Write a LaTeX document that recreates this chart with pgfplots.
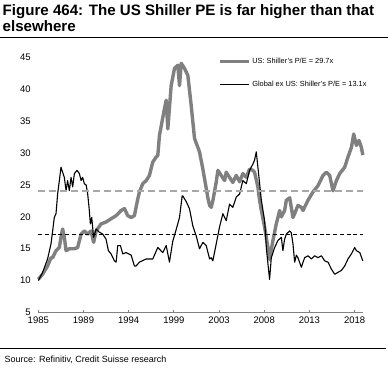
\documentclass[border=0pt]{standalone}
\usepackage{fontspec}
\setmainfont{Liberation Sans}
\usepackage{pgfplots}
\pgfplotsset{compat=1.18}
\definecolor{usgray}{RGB}{128,128,128}
\definecolor{dashgray}{RGB}{168,168,168}
\definecolor{axgray}{RGB}{130,130,130}
\begin{document}
\begin{tikzpicture}[x=1bp,y=1bp]
\useasboundingbox (0,0) rectangle (388,-369);
\node[anchor=base west,inner sep=0] at (2.5,-15) {\fontsize{15.1bp}{17bp}\selectfont\bfseries Figure 464: The US Shiller PE is far higher than that};
\node[anchor=base west,inner sep=0] at (2.5,-31.5) {\fontsize{15.1bp}{17bp}\selectfont\bfseries elsewhere};
\draw[line width=1bp] (0,-37.3) -- (388,-37.3);
\draw[line width=1bp] (0,-348) -- (386,-348);
\node[anchor=base west,inner sep=0] at (4.5,-362) {\fontsize{9bp}{10bp}\selectfont Source: Refinitiv, Credit Suisse research};
\begin{axis}[
  at={(38.3bp,-312.5bp)}, anchor=south west,
  scale only axis, width=325bp, height=255bp,
  xmin=1985, xmax=2018.95, ymin=5, ymax=45,
  axis x line=bottom, axis y line=left,
  x axis line style={draw=axgray, line width=0.9bp, -},
  y axis line style={draw=none},
  ytick={5,10,...,45},
  xtick={1985,1989.72,1994.44,1999.16,2003.88,2008.6,2013.32,2018.04},
  xticklabels={1985,1989,1994,1999,2003,2008,2013,2018},
  tick align=inside, major tick length=3bp,
  xtick style={draw=axgray, line width=0.8bp},
  ytick style={draw=none},
  /pgf/number format/assume math mode=true,
  ticklabel style={font=\fontsize{9.5bp}{11bp}\selectfont},
  yticklabel style={xshift=-4bp},
  xticklabel style={yshift=-1bp},
  clip=false,
  legend style={draw=none, fill=none, at={(0.552,1.006)}, anchor=north west,
    font=\fontsize{7.4bp}{8.5bp}\selectfont, row sep=12bp, inner sep=0pt,
    cells={anchor=west}},
  legend cell align=left,
  legend image code/.code={\draw[#1] (0bp,0bp) -- (29bp,0bp);},
]
\addplot[usgray, line width=3.4bp, line join=round] coordinates {
(1985.0,10.2) (1985.45,11.0) (1985.97,12.3) (1986.33,13.6) (1986.5,13.6) (1986.85,14.7)
(1987.2,15.2) (1987.37,16.8) (1987.54,18.1) (1987.72,16.8) (1987.9,14.7) (1988.24,15.0)
(1988.77,15.0) (1989.11,15.2) (1989.47,17.3) (1989.81,17.8) (1990.16,17.3) (1990.51,17.8)
(1990.78,16.0) (1991.04,17.8) (1991.56,18.9) (1992.08,19.2) (1992.6,19.7) (1993.13,20.2)
(1993.65,21.0) (1994.0,21.3) (1994.34,20.2) (1994.7,19.9) (1995.04,20.2) (1995.39,22.8)
(1995.56,23.9) (1995.91,25.2) (1996.27,25.7) (1996.61,26.5) (1996.96,28.6) (1997.31,29.4)
(1997.48,29.6) (1997.66,32.8) (1998.18,37.0) (1998.36,38.3) (1998.53,33.8) (1998.88,40.6)
(1999.23,43.3) (1999.57,43.8) (1999.75,40.6) (1999.93,44.1) (2000.27,43.3) (2000.62,42.2)
(2000.97,37.5) (2001.32,32.3) (2001.84,30.2) (2002.19,27.5) (2002.54,24.5) (2002.71,23.0)
(2002.89,21.8) (2003.06,21.5) (2003.23,22.5) (2003.59,25.5) (2003.76,27.3) (2004.11,26.5)
(2004.46,25.7) (2004.63,27.0) (2004.98,26.2) (2005.32,25.4) (2005.68,26.5) (2006.03,25.5)
(2006.37,26.8) (2006.73,26.2) (2007.07,27.5) (2007.42,27.3) (2007.59,27.0) (2007.94,24.7)
(2008.12,22.6) (2008.3,21.0) (2008.64,18.4) (2008.99,15.2) (2009.16,13.3) (2009.51,16.3)
(2009.86,18.9) (2010.21,21.0) (2010.39,20.0) (2010.73,21.0) (2010.91,22.6) (2011.26,23.0)
(2011.6,19.9) (2011.78,20.5) (2012.12,21.8) (2012.48,21.5) (2012.65,21.0) (2013.17,22.6)
(2013.69,23.9) (2014.22,24.9) (2014.74,26.5) (2015.09,27.0) (2015.44,26.5) (2015.78,24.1)
(2016.14,25.7) (2016.49,26.8) (2017.01,27.8) (2017.35,29.4) (2017.71,30.9) (2017.95,33.0)
(2018.23,31.2) (2018.5,32.0) (2018.75,30.9) (2018.9,29.7)
};
\addlegendentry{US: Shiller's P/E = 29.7x}
\addplot[black, line width=1.1bp, line join=round] coordinates {
(1985.0,10.0) (1985.45,11.3) (1985.97,13.4) (1986.33,15.8) (1986.5,17.8) (1986.67,19.9)
(1986.85,20.5) (1987.02,23.6) (1987.2,25.7) (1987.37,27.8) (1987.54,27.0) (1987.72,26.2)
(1987.9,24.1) (1988.06,25.7) (1988.24,24.1) (1988.42,26.2) (1988.59,24.7) (1988.77,26.8)
(1989.05,27.3) (1989.29,26.8) (1989.47,25.7) (1989.63,26.2) (1989.81,25.2) (1990.0,25.0)
(1990.16,23.6) (1990.33,21.0) (1990.44,18.9) (1990.58,19.9) (1990.78,16.8) (1991.04,18.1)
(1991.38,17.6) (1991.73,17.3) (1992.08,16.5) (1992.32,14.7) (1992.6,14.2) (1992.95,13.1)
(1993.13,12.9) (1993.3,15.5) (1993.58,15.5) (1993.82,14.2) (1994.17,14.4) (1994.7,14.0)
(1995.04,12.3) (1995.22,12.3) (1995.56,12.9) (1996.27,13.4) (1996.96,13.4) (1997.48,15.2)
(1998.0,14.4) (1998.36,15.5) (1998.7,12.9) (1999.05,16.2) (1999.4,18.0) (1999.75,19.9)
(2000.03,23.3) (2000.09,23.3) (2000.45,22.4) (2000.79,21.3) (2001.14,18.6) (2001.5,17.0)
(2001.84,15.0) (2002.19,16.0) (2002.54,15.5) (2002.89,13.4) (2003.06,13.6) (2003.23,13.1)
(2003.59,15.8) (2003.93,18.4) (2004.28,20.5) (2004.63,19.4) (2004.98,22.0) (2005.32,21.5)
(2005.68,23.1) (2006.03,23.6) (2006.37,25.7) (2006.73,25.2) (2007.07,27.3) (2007.42,28.3)
(2007.59,28.9) (2007.77,30.2) (2007.94,27.8) (2008.3,22.6) (2008.64,19.4) (2008.82,15.2)
(2008.99,12.6) (2009.16,10.2) (2009.34,13.6) (2009.69,15.2) (2010.03,16.3) (2010.39,16.8)
(2010.55,14.7) (2010.73,16.5) (2010.91,17.3) (2011.26,17.8) (2011.43,17.5) (2011.6,15.8)
(2011.78,12.9) (2011.96,14.0) (2012.12,13.6) (2012.48,12.1) (2012.82,13.6) (2013.17,13.9)
(2013.53,13.4) (2013.87,13.9) (2014.22,13.6) (2014.57,13.9) (2014.92,13.1) (2015.26,12.9)
(2015.62,11.8) (2015.96,11.0) (2016.31,11.3) (2016.66,11.6) (2017.01,12.3) (2017.35,13.4)
(2017.71,14.2) (2018.05,15.2) (2018.23,14.7) (2018.58,14.4) (2018.9,13.1)
};
\addlegendentry{Global ex US: Shiller's P/E = 13.1x}
\addplot[dashgray, line width=2.2bp, dash pattern=on 7bp off 4bp, forget plot] coordinates {(1985,24.0) (2018.9,24.0)};
\addplot[black, line width=1.2bp, dash pattern=on 4bp off 2.7bp, forget plot] coordinates {(1985,17.2) (2018.9,17.2)};
\end{axis}
\end{tikzpicture}
\end{document}
